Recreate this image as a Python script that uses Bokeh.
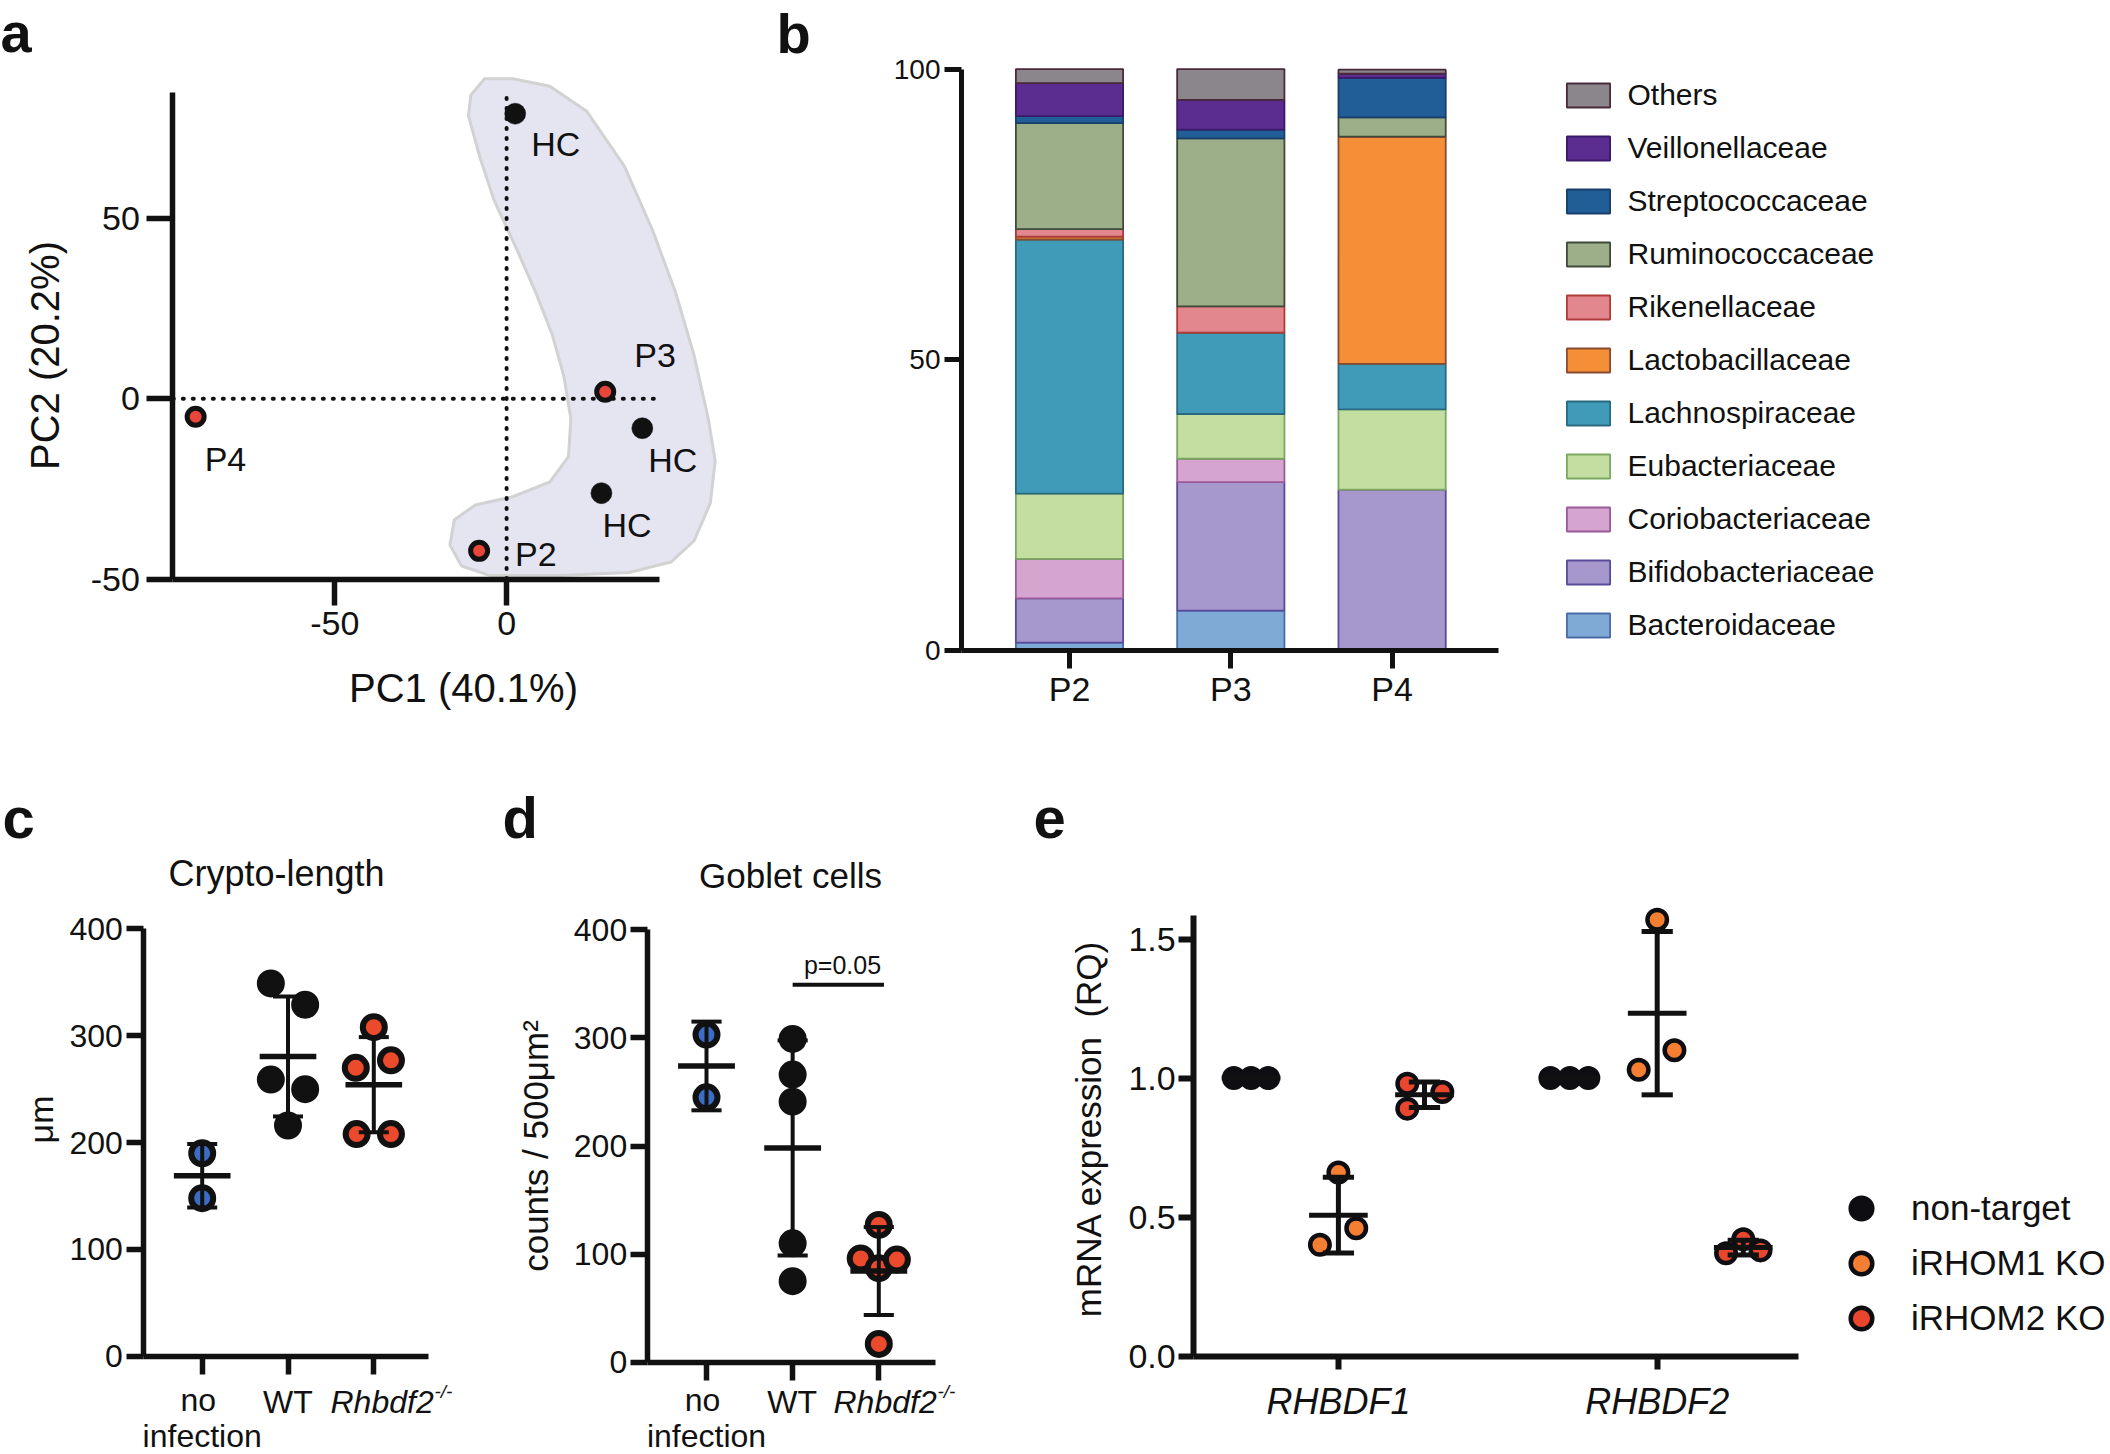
import numpy as np
from bokeh.plotting import figure
from bokeh.models import (ColumnDataSource, LabelSet, Label, Legend, LegendItem,
                          FixedTicker, Range1d, NumeralTickFormatter)
from bokeh.layouts import row, column
from bokeh.embed import file_html
from bokeh.resources import INLINE
from bokeh.core.properties import value

FONT = "Liberation Sans"
INK = "#111111"

# ======================= DATA =======================
# (a) PCA
pca_names = ["HC", "P3", "HC", "HC", "P2", "P4"]
pca_pc1 = [2.5, 28.7, 39.5, 27.6, -8.0, -90.5]
pca_pc2 = [79.0, 1.9, -8.2, -26.2, -42.2, -5.0]
hull_pc1 = [-10.4, -6.4, 1.8, 12.6, 23.4, 34.3, 42.4, 49.2, 54.6, 58.7, 60.7, 59.3,
            54.6, 47.8, 35.6, 15.3, -5.0, -13.1, -16.5, -15.2, -9.1, 1.8, 12.6, 18.0,
            18.7, 16.7, 13.3, 8.5, 3.1, -3.7, -7.7, -11.1]
hull_pc2 = [84.2, 88.7, 88.7, 86.6, 79.6, 64.4, 46.9, 29.4, 11.9, -5.6, -17.3, -28.9,
            -39.4, -45.3, -48.2, -49.0, -49.0, -46.4, -40.6, -33.6, -29.5, -27.2, -23.1, -16.1,
            -5.6, 6.1, 17.7, 29.4, 41.1, 55.1, 66.7, 78.4]

# (b) relative abundance (%)
samples = ["P2", "P3", "P4"]
families = ["Bacteroidaceae", "Bifidobacteriaceae", "Coriobacteriaceae", "Eubacteriaceae",
            "Lachnospiraceae", "Lactobacillaceae", "Rikenellaceae", "Ruminococcaceae",
            "Streptococcaceae", "Veillonellaceae", "Others"]
abund_P2 = [1.4, 7.6, 6.8, 11.2, 43.7, 0.5, 1.3, 18.2, 1.2, 5.7, 2.4]
abund_P3 = [6.9, 22.1, 4.0, 7.7, 14.0, 0.0, 4.5, 28.9, 1.5, 5.1, 5.3]
abund_P4 = [0.0, 27.7, 0.0, 13.8, 7.8, 39.1, 0.0, 3.3, 6.8, 0.7, 0.7]

# (c) crypt length (um) and (d) goblet cells
groups = ["no infection", "WT", "Rhbdf2"]
crypt_noinf = [190, 148]
crypt_wt = [349, 329, 259, 250, 216]
crypt_ko = [308, 270, 277, 208, 208]
goblet_noinf = [303, 245]
goblet_wt = [299, 266, 241, 110, 75]
goblet_ko = [127, 96, 87, 95, 17]

# (e) mRNA expression (RQ)
genes = ["RHBDF1", "RHBDF2"]
conditions = ["non-target", "iRHOM1 KO", "iRHOM2 KO"]
rq_RHBDF1_nontarget = [1.0, 1.0, 1.0]
rq_RHBDF1_irhom1 = [0.40, 0.66, 0.46]
rq_RHBDF1_irhom2 = [0.98, 0.89, 0.95]
rq_RHBDF2_nontarget = [1.0, 1.0, 1.0]
rq_RHBDF2_irhom1 = [1.03, 1.57, 1.10]
rq_RHBDF2_irhom2 = [0.37, 0.42, 0.38]

# ======================= STYLE / LAYOUT =======================
fam_fill = ["#80aad6", "#a698cc", "#d5a5cf", "#c3dea0", "#3f9bb8", "#f48f37",
            "#e1878d", "#9caf88", "#215d96", "#5c2d91", "#8a868c"]
fam_line = ["#4a6aa8", "#5a4a9a", "#9a5a9a", "#7aa860", "#2a6a80", "#8a4a30",
            "#b03a3a", "#3f4a3a", "#1a3f6a", "#3a1a6a", "#4a2a3a"]
c_blue, c_red, c_orange = "#3b6dc4", "#ec4a2d", "#f47f32"


class Geo:
    """Canvas placed at page (ox, oy) of size w x h; the frame fills the whole canvas.
    The data<->pixel mapping is fixed by two anchors per axis (page px, data value)."""

    def __init__(self, ox, oy, w, h, xa, xb, ya, yb):
        self.ox, self.oy, self.w, self.h = ox, oy, w, h
        self.kx = (xb[1] - xa[1]) / (xb[0] - xa[0])
        self.ky = (yb[1] - ya[1]) / (yb[0] - ya[0])
        self.xa, self.ya = xa, ya
        self.xr = (self.x(ox), self.x(ox + w))
        self.yr = (self.y(oy + h), self.y(oy))

    def x(self, px):
        return self.xa[1] + (px - self.xa[0]) * self.kx

    def y(self, py):
        return self.ya[1] + (py - self.ya[0]) * self.ky


def make_fig(g):
    p = figure(width=g.w, height=g.h, x_range=Range1d(*g.xr), y_range=Range1d(*g.yr),
               output_backend="svg", toolbar_location=None,
               min_border_left=0, min_border_right=0, min_border_top=0, min_border_bottom=0)
    p.grid.visible = False
    p.outline_line_color = None
    p.background_fill_color = "white"
    p.border_fill_color = "white"
    return p


def style_axis(ax, font_px, tick_out, lw=5.5, standoff=6):
    ax.axis_line_width = lw
    ax.axis_line_color = INK
    ax.major_tick_line_width = lw
    ax.major_tick_line_color = INK
    ax.major_tick_in = 0
    ax.major_tick_out = tick_out
    ax.minor_tick_line_color = None
    ax.major_label_text_font = FONT
    ax.major_label_text_font_size = f"{font_px}px"
    ax.major_label_text_color = INK
    ax.major_label_standoff = standoff
    ax.axis_label_text_font = FONT
    ax.axis_label_text_font_style = "normal"
    ax.axis_label_text_color = INK


def add_text(p, g, px, py, text, size, style="normal", align="center", angle=0.0, base=False):
    # py is the visual centre; with base=True py is the text baseline
    if base:
        py = py - 0.347 * size
    p.add_layout(Label(x=g.x(px), y=g.y(py), text=text, text_font=FONT, text_font_size=f"{size}px",
                       text_font_style=style, text_align=align, text_baseline="middle",
                       text_color=INK, angle=angle))


def letter(p, g, px, base_py, text, size=58):
    add_text(p, g, px, base_py, text, size, style="bold", align="left", base=True)


# ======================= (a) PCA =======================
ga = Geo(0, 0, 778, 780, (334.3, -50), (506.1, 0), (578.5, -50), (217.8, 50))
pa = make_fig(ga)
xa_bounds, ya_bounds = (ga.x(172.3), 44.4), (-50.0, 85.0)
style_axis(pa.xaxis[0], 34, 26, standoff=7)
style_axis(pa.yaxis[0], 34, 26, standoff=7)
pa.xaxis[0].ticker = FixedTicker(ticks=[-50, 0], minor_ticks=[])
pa.yaxis[0].ticker = FixedTicker(ticks=[-50, 0, 50], minor_ticks=[])
pa.xaxis[0].major_label_overrides = {-50: "-50", 0: "0"}
pa.yaxis[0].major_label_overrides = {-50: "-50", 0: "0", 50: "50"}
pa.xaxis[0].bounds = xa_bounds
pa.yaxis[0].bounds = ya_bounds
pa.xaxis[0].fixed_location = ya_bounds[0]
pa.yaxis[0].fixed_location = xa_bounds[0]

pa.patch(hull_pc1, hull_pc2, fill_color="#e5e5f2", line_color="#d2d2d2", line_width=3)
pa.segment(x0=[0, xa_bounds[0]], y0=[ya_bounds[0], 0], x1=[0, xa_bounds[1]], y1=[ya_bounds[1], 0],
           line_color=INK, line_width=4, line_dash="1 9", line_cap="round")
is_p = [n.startswith("P") for n in pca_names]
src_a = ColumnDataSource(dict(
    x=pca_pc1, y=pca_pc2, name=pca_names,
    fill=["#e8453b" if q else INK for q in is_p],
    size=[17 if q else 21 for q in is_p],
    lw=[5 if q else 0.5 for q in is_p],
    xo=[16, 29, 6, 1, 36, 9],
    yo=[-30, 37, -32, -32, -3, -42],
))
pa.scatter("x", "y", source=src_a, size="size", fill_color="fill", line_color=INK, line_width="lw")
pa.add_layout(LabelSet(x="x", y="y", text="name", x_offset="xo", y_offset="yo", source=src_a,
                       text_font=value(FONT), text_font_size="34px", text_align="left",
                       text_baseline="middle", text_color=INK))
add_text(pa, ga, 463, 687, "PC1 (40.1%)", 40)
add_text(pa, ga, 44, 355, "PC2 (20.2%)", 40, angle=np.pi / 2)
add_text(pa, ga, 0, 32, "a", 56, style="bold", align="left")

# ======================= (b) stacked bars =======================
gb = Geo(778, 0, 1332, 780, (1069, 1), (1391.6, 3), (650.2, 0), (68.6, 100))
pb = make_fig(gb)
style_axis(pb.xaxis[0], 34, 18, lw=5, standoff=1)
style_axis(pb.yaxis[0], 28, 17, lw=5, standoff=4)
xb = list(range(1, len(samples) + 1))
pb.xaxis[0].ticker = FixedTicker(ticks=xb, minor_ticks=[])
pb.xaxis[0].major_label_overrides = {i: s for i, s in zip(xb, samples)}
pb.yaxis[0].ticker = FixedTicker(ticks=[0, 50, 100], minor_ticks=[])
xb_bounds = (gb.x(961), 3.657)
pb.xaxis[0].bounds = xb_bounds
pb.yaxis[0].bounds = (0, 100)
pb.xaxis[0].fixed_location = 0
pb.yaxis[0].fixed_location = xb_bounds[0]
data_b = dict(x=xb)
for i, f in enumerate(families):
    data_b[f] = [abund_P2[i], abund_P3[i], abund_P4[i]]
src_b = ColumnDataSource(data_b)
rends = pb.vbar_stack(families, x="x", width=0.665, source=src_b,
                      fill_color=fam_fill, line_color=fam_line, line_width=1.8)
items = [LegendItem(label=f, renderers=[r]) for f, r in zip(families, rends)][::-1]
leg_b = Legend(items=items, location=(782.5, 138), padding=0, margin=0, spacing=19,
               glyph_width=54, glyph_height=30, label_height=34, label_standoff=13,
               label_text_font=FONT, label_text_font_size="30px", label_text_color=INK,
               border_line_color=None, background_fill_alpha=0)
pb.add_layout(leg_b)
add_text(pb, gb, 776, 33, "b", 56, style="bold", align="left")


# ======================= (c), (d) dot plots =======================
def dot_panel(p, vals, offs, fills, mean_w=0.33, cap_w=0.175):
    xs, ys, fc = [], [], []
    for i, (v, o, f) in enumerate(zip(vals, offs, fills)):
        xs += [i + 1 + d for d in o]
        ys += list(v)
        fc += [f] * len(v)
    p.scatter(xs, ys, size=22, fill_color=fc, line_color=INK, line_width=6)
    cx = np.arange(1, len(vals) + 1)
    m = np.array([np.mean(v) for v in vals])
    s = np.array([np.std(v, ddof=1) for v in vals])
    p.segment(cx, m - s, cx, m + s, line_color=INK, line_width=4)
    p.segment(np.r_[cx, cx] - cap_w, np.r_[m - s, m + s], np.r_[cx, cx] + cap_w, np.r_[m - s, m + s],
              line_color=INK, line_width=4)
    p.segment(cx - mean_w, m, cx + mean_w, m, line_color=INK, line_width=5.5)


def cat_labels(p, g, cat_px, sup_x):
    add_text(p, g, cat_px[0] - 4, 1411, "no", 32, base=True)
    add_text(p, g, cat_px[0], 1447, "infection", 32, base=True)
    add_text(p, g, cat_px[1], 1413, "WT", 32, base=True)
    add_text(p, g, sup_x, 1413, groups[2], 32, style="italic", align="left", base=True)
    add_text(p, g, sup_x + 104, 1398, "-/-", 19, style="italic", align="left", base=True)


def dot_axes(p, g, yaxis_px, x_end, yst):
    style_axis(p.xaxis[0], 32, 18, standoff=6)
    style_axis(p.yaxis[0], 32, 17, standoff=yst)
    p.xaxis[0].ticker = FixedTicker(ticks=[1, 2, 3], minor_ticks=[])
    p.xaxis[0].major_label_overrides = {1: "", 2: "", 3: ""}
    p.yaxis[0].ticker = FixedTicker(ticks=[0, 100, 200, 300, 400], minor_ticks=[])
    xb_ = (g.x(yaxis_px), x_end)
    p.xaxis[0].bounds = xb_
    p.yaxis[0].bounds = (0, 400)
    p.xaxis[0].fixed_location = 0
    p.yaxis[0].fixed_location = xb_[0]


gc = Geo(0, 780, 480, 674, (201.7, 1), (373.3, 3), (1355.8, 0), (928.4, 400))
pc = make_fig(gc)
dot_axes(pc, gc, 143.3, 3.64, 4)
dot_panel(pc, [crypt_noinf, crypt_wt, crypt_ko],
          [[0, 0], [-0.2, 0.2, -0.2, 0.2, 0], [0, -0.21, 0.2, -0.2, 0.2]],
          [c_blue, INK, c_red])
cat_labels(pc, gc, [201.7, 287.3, 373.3], 330)
add_text(pc, gc, 276, 873, "Crypto-length", 36)
add_text(pc, gc, 40, 1119, "μm", 34, angle=np.pi / 2)
letter(pc, gc, 2, 837, "c")

gd = Geo(480, 780, 540, 674, (706, 1), (878.3, 3), (1361.8, 0), (929.2, 400))
pd_ = make_fig(gd)
dot_axes(pd_, gd, 646.7, 3.66, 3)
pd_.yaxis[0].axis_label = "counts / 500μm²"
pd_.yaxis[0].axis_label_text_font_size = "35px"
pd_.yaxis[0].axis_label_standoff = 16
dot_panel(pd_, [goblet_noinf, goblet_wt, goblet_ko],
          [[0, 0], [0, 0, 0, 0, 0], [0, -0.21, 0, 0.21, 0]],
          [c_blue, INK, c_red])
pd_.segment([2.0], [349], [3.06], [349], line_color=INK, line_width=4)
cat_labels(pd_, gd, [706, 791.7, 878.3], 833)
add_text(pd_, gd, 842, 964, "p=0.05", 25)
add_text(pd_, gd, 790, 875, "Goblet cells", 35)
letter(pd_, gd, 502, 837, "d")

# ======================= (e) RQ =======================
ge = Geo(1020, 780, 1090, 674, (1337.9, 1), (1656.7, 2), (1355.5, 0), (938.6, 1.5))
pe = make_fig(ge)
style_axis(pe.xaxis[0], 36, 13, lw=6, standoff=12)
style_axis(pe.yaxis[0], 34, 15, lw=6, standoff=3)
pe.xaxis[0].ticker = FixedTicker(ticks=[1, 2], minor_ticks=[])
pe.xaxis[0].major_label_overrides = {1: genes[0], 2: genes[1]}
pe.xaxis[0].major_label_text_font_style = "italic"
pe.yaxis[0].ticker = FixedTicker(ticks=[0, 0.5, 1.0, 1.5], minor_ticks=[])
pe.yaxis[0].formatter = NumeralTickFormatter(format="0.0")
xe_bounds = (ge.x(1193.2), 2.443)
pe.xaxis[0].bounds = xe_bounds
pe.yaxis[0].bounds = (0, 1.585)
pe.xaxis[0].fixed_location = 0
pe.yaxis[0].fixed_location = xe_bounds[0]
add_text(pe, ge, 1088, 1128, "mRNA expression\u00a0 (RQ)", 35, angle=np.pi / 2)

e_vals = {
    "non-target": [rq_RHBDF1_nontarget, rq_RHBDF2_nontarget],
    "iRHOM1 KO": [rq_RHBDF1_irhom1, rq_RHBDF2_irhom1],
    "iRHOM2 KO": [rq_RHBDF1_irhom2, rq_RHBDF2_irhom2],
}
e_group_off = {"non-target": -0.274, "iRHOM1 KO": 0.0, "iRHOM2 KO": 0.27}
e_jitter = {
    "non-target": [[-0.054, 0, 0.054], [-0.061, 0, 0.058]],
    "iRHOM1 KO": [[-0.058, 0, 0.056], [-0.058, 0, 0.054]],
    "iRHOM2 KO": [[-0.054, -0.054, 0.056], [-0.054, 0, 0.054]],
}
e_fill = {"non-target": "#0d0d12", "iRHOM1 KO": c_orange, "iRHOM2 KO": "#e8472e"}
e_rends = []
for cond in conditions:
    xs, ys = [], []
    for gi in range(len(genes)):
        xs += [gi + 1 + e_group_off[cond] + j for j in e_jitter[cond][gi]]
        ys += e_vals[cond][gi]
    r = pe.scatter(xs, ys, size=19.5, fill_color=e_fill[cond], line_color="#0d0d12", line_width=4.5)
    e_rends.append(r)
for cond in conditions:
    cx = np.array([gi + 1 + e_group_off[cond] for gi in range(len(genes))])
    m = np.array([np.mean(v) for v in e_vals[cond]])
    s = np.array([np.std(v, ddof=1) for v in e_vals[cond]])
    pe.segment(cx, m - s, cx, m + s, line_color=INK, line_width=5)
    pe.segment(np.r_[cx, cx] - 0.049, np.r_[m - s, m + s], np.r_[cx, cx] + 0.049, np.r_[m - s, m + s],
               line_color=INK, line_width=5)
    pe.segment(cx - 0.092, m, cx + 0.092, m, line_color=INK, line_width=5)
leg_e = Legend(items=[LegendItem(label=c, renderers=[r]) for c, r in zip(conditions, e_rends)],
               location=(814, 109), padding=0, margin=0, spacing=1,
               glyph_width=54, glyph_height=54, label_height=22, label_standoff=23,
               label_text_font=FONT, label_text_font_size="35px", label_text_color=INK,
               border_line_color=None, background_fill_alpha=0)
pe.add_layout(leg_e)
letter(pe, ge, 1033, 838, "e")

layout = column(row(pa, pb), row(pc, pd_, pe))
open("out.html", "w").write(file_html(layout, INLINE))
